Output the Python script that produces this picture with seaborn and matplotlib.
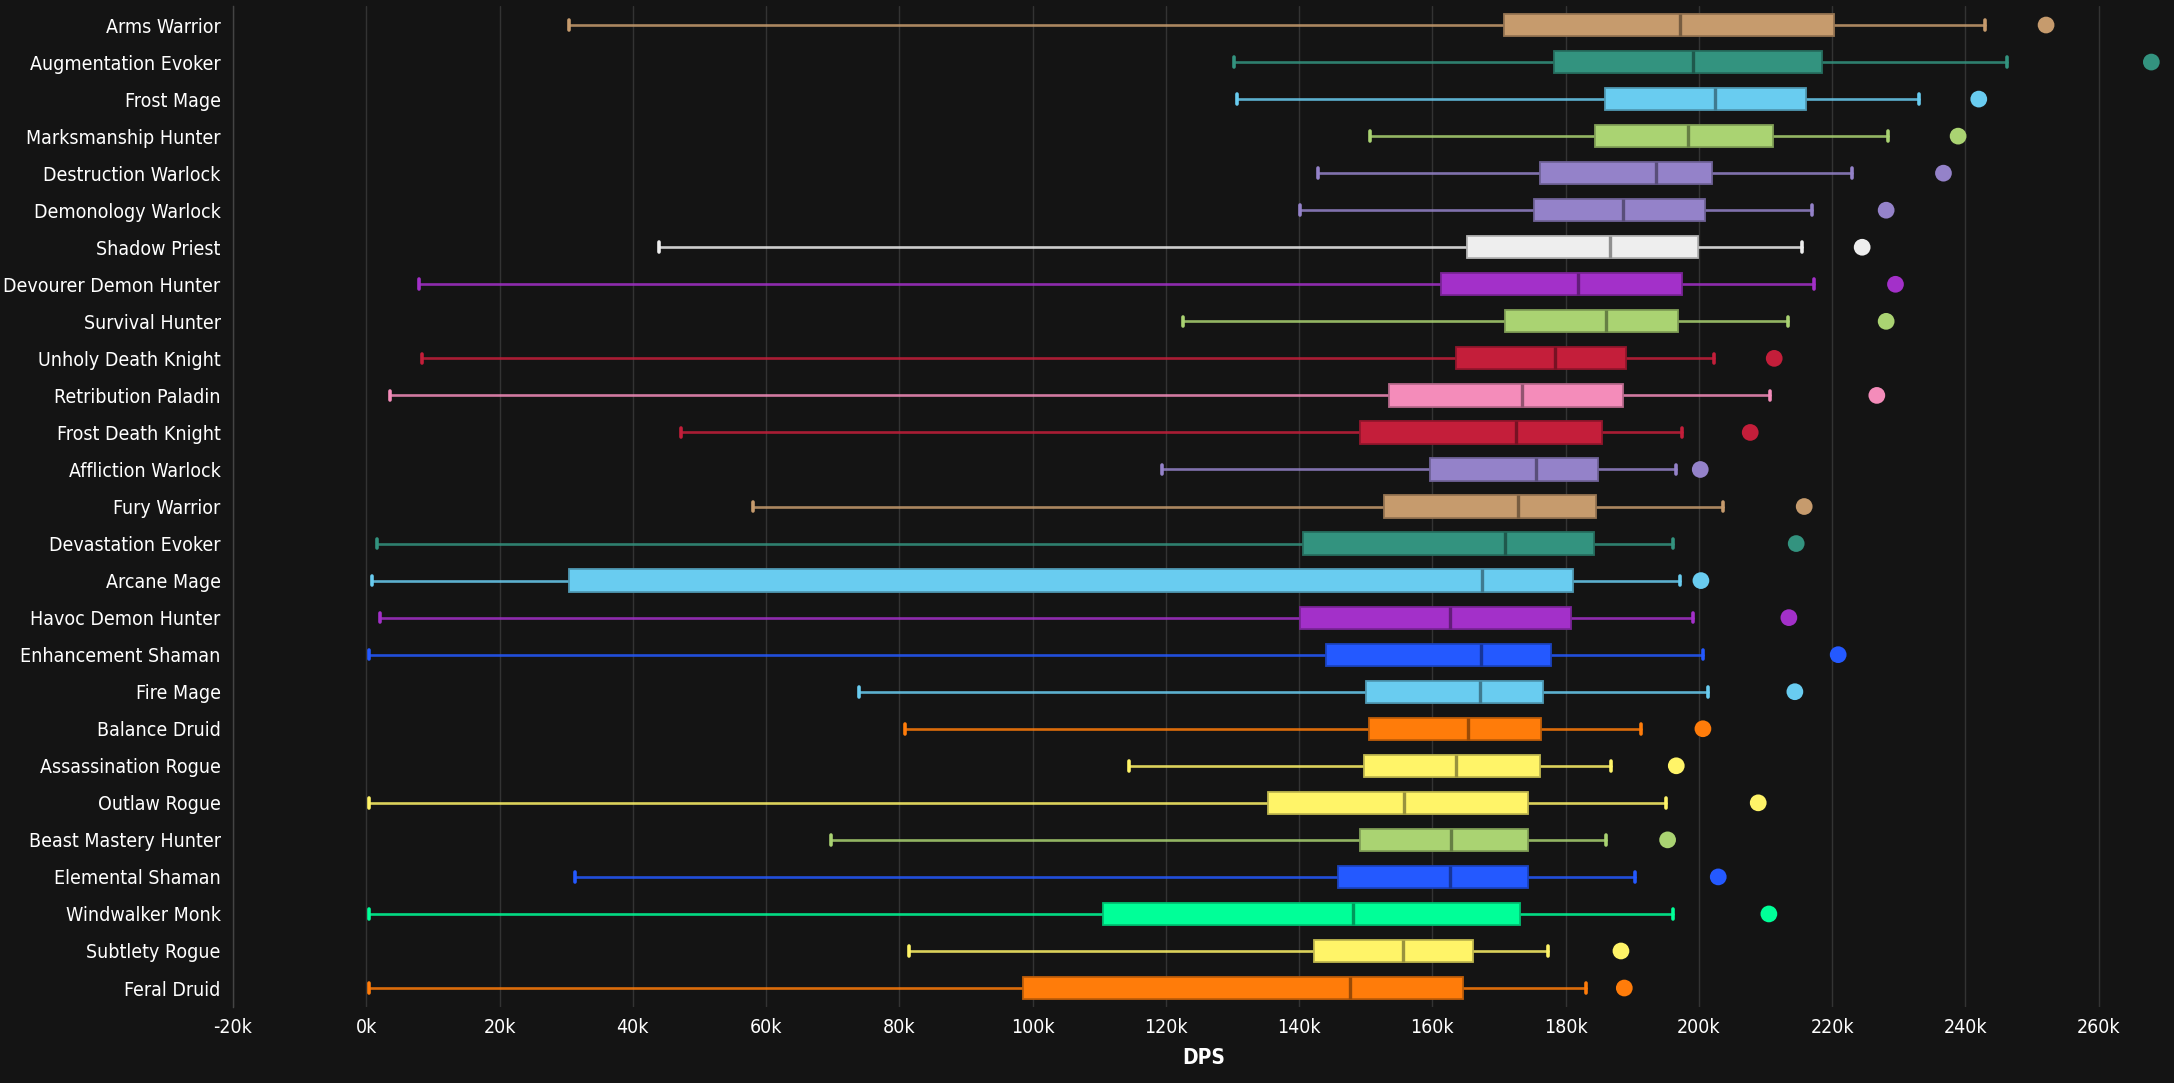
import matplotlib
matplotlib.use("Agg")
import matplotlib.pyplot as plt
import matplotlib.colors as mcolors
from matplotlib.ticker import FuncFormatter, MultipleLocator, FixedLocator
import numpy as np
import seaborn as sns

specs = ["Arms Warrior", "Augmentation Evoker", "Frost Mage", "Marksmanship Hunter",
         "Destruction Warlock", "Demonology Warlock", "Shadow Priest", "Devourer Demon Hunter",
         "Survival Hunter", "Unholy Death Knight", "Retribution Paladin", "Frost Death Knight",
         "Affliction Warlock", "Fury Warrior", "Devastation Evoker", "Arcane Mage",
         "Havoc Demon Hunter", "Enhancement Shaman", "Fire Mage", "Balance Druid",
         "Assassination Rogue", "Outlaw Rogue", "Beast Mastery Hunter", "Elemental Shaman",
         "Windwalker Monk", "Subtlety Rogue", "Feral Druid"]

whisker_lo = [30400, 130200, 130700, 150600, 142800, 140100, 43900, 7900, 122500, 8400,
              3500, 47200, 119400, 58000, 1600, 900, 2000, 400, 73900, 80900,
              114500, 400, 69700, 31300, 400, 81500, 400]
q1 = [170700, 178200, 185900, 184400, 176200, 175200, 165200, 161300, 170900, 163600,
      153500, 149100, 159600, 152800, 140600, 30400, 140100, 144100, 150100, 150500,
      149800, 135300, 149100, 145800, 110500, 142300, 98500]
median = [197200, 199100, 202400, 198400, 193600, 188600, 186600, 181800, 186100, 178400,
          173400, 172600, 175600, 172800, 170900, 167500, 162600, 167300, 167100, 165400,
          163500, 155800, 162800, 162600, 148100, 155600, 147600]
q3 = [220200, 218400, 216000, 211100, 201900, 200900, 199900, 197400, 196900, 189000,
      188600, 185400, 184800, 184600, 184300, 181100, 180800, 177800, 176600, 176300,
      176100, 174300, 174300, 174300, 173100, 166100, 164600]
whisker_hi = [243000, 246300, 233000, 228400, 223000, 217000, 215500, 217200, 213400, 202200,
              210600, 197400, 196600, 203600, 196100, 197200, 199100, 200600, 201300, 191300,
              186800, 195100, 186100, 190400, 196100, 177300, 183100]
top_dps = [252100, 267900, 242000, 238900, 236700, 228100, 224500, 229500, 228100, 211300,
           226700, 207700, 200200, 215800, 214600, 200300, 213500, 220900, 214400, 200600,
           196600, 208900, 195300, 202900, 210500, 188300, 188800]

class_colors = {
    "Warrior": "#C69B6D", "Evoker": "#33937F", "Mage": "#69CCF0", "Hunter": "#AAD372",
    "Warlock": "#9482C9", "Priest": "#EEEEEE", "Demon Hunter": "#A330C9",
    "Death Knight": "#C41E3A", "Paladin": "#F48CBA", "Shaman": "#2459FF",
    "Druid": "#FF7C0A", "Rogue": "#FFF468", "Monk": "#00FF98",
}


def spec_color(name):
    for cls in ["Demon Hunter", "Death Knight"]:
        if name.endswith(cls):
            return class_colors[cls]
    return class_colors[name.split()[-1]]


def shade(c, f):
    r, g, b = mcolors.to_rgb(c)
    return (r * f, g * f, b * f)


colors = [spec_color(s) for s in specs]
palette = dict(zip(specs, colors))

bg = "#141414"
sns.set_theme(style="dark", rc={
    "figure.facecolor": bg, "axes.facecolor": bg, "savefig.facecolor": bg,
    "text.color": "white", "xtick.color": "white", "ytick.color": "white",
    "axes.labelcolor": "white",
})
plt.rcParams["font.family"] = ["DejaVu Sans"]
plt.rcParams["font.stretch"] = "condensed"

fig = plt.figure(figsize=(21.74, 10.83), dpi=100)
ax = fig.add_axes([0.1072, 0.0706, 0.8928, 0.9234])

n = len(specs)
pos = np.arange(n)
stats = [dict(label=s, whislo=lo, q1=a, med=m, q3=b, whishi=hi, fliers=[])
         for s, lo, a, m, b, hi in zip(specs, whisker_lo, q1, median, q3, whisker_hi)]
parts = ax.bxp(stats, positions=pos, widths=0.6, orientation="horizontal",
               patch_artist=True, showfliers=False, capwidths=0.26, manage_ticks=False)

for i, c in enumerate(colors):
    parts["boxes"][i].set(facecolor=c, edgecolor=shade(c, 0.75), linewidth=1.3, zorder=3)
    parts["medians"][i].set(color=shade(c, 0.6), linewidth=2.4, zorder=4)
    for k in (2 * i, 2 * i + 1):
        parts["whiskers"][k].set(color=c, linewidth=1.9, alpha=0.85, zorder=2)
        parts["caps"][k].set(color=c, linewidth=2.6, zorder=2)

sns.scatterplot(x=top_dps, y=pos, hue=specs, palette=palette, legend=False,
                s=145, linewidth=0, ax=ax, zorder=5)

ax.set_xlim(-20000, 271300)
ax.set_ylim(n - 0.5, -0.5)
ax.xaxis.set_major_locator(MultipleLocator(20000))
ax.xaxis.set_major_formatter(FuncFormatter(lambda v, p: f"{int(round(v / 1000))}k"))
ax.set_yticks(pos)
ax.set_yticklabels(specs)
ax.yaxis.set_minor_locator(FixedLocator(np.arange(-0.5, n, 1.0)))
ax.tick_params(axis="y", which="major", length=0, pad=9, labelsize=14)
ax.tick_params(axis="y", which="minor", length=6, color="#444444", width=1)
ax.tick_params(axis="x", length=0, pad=8, labelsize=14)
ax.grid(axis="x", color="#333333", linewidth=1)
ax.grid(axis="y", visible=False)
ax.set_axisbelow(True)
for side in ["top", "right", "bottom"]:
    ax.spines[side].set_visible(False)
ax.spines["left"].set_color("#444444")
ax.spines["left"].set_linewidth(1)

ax.set_xlabel("DPS", fontsize=15, fontweight="bold", labelpad=8)
ax.set_ylabel("")

fig.savefig("out.png", dpi=100)
